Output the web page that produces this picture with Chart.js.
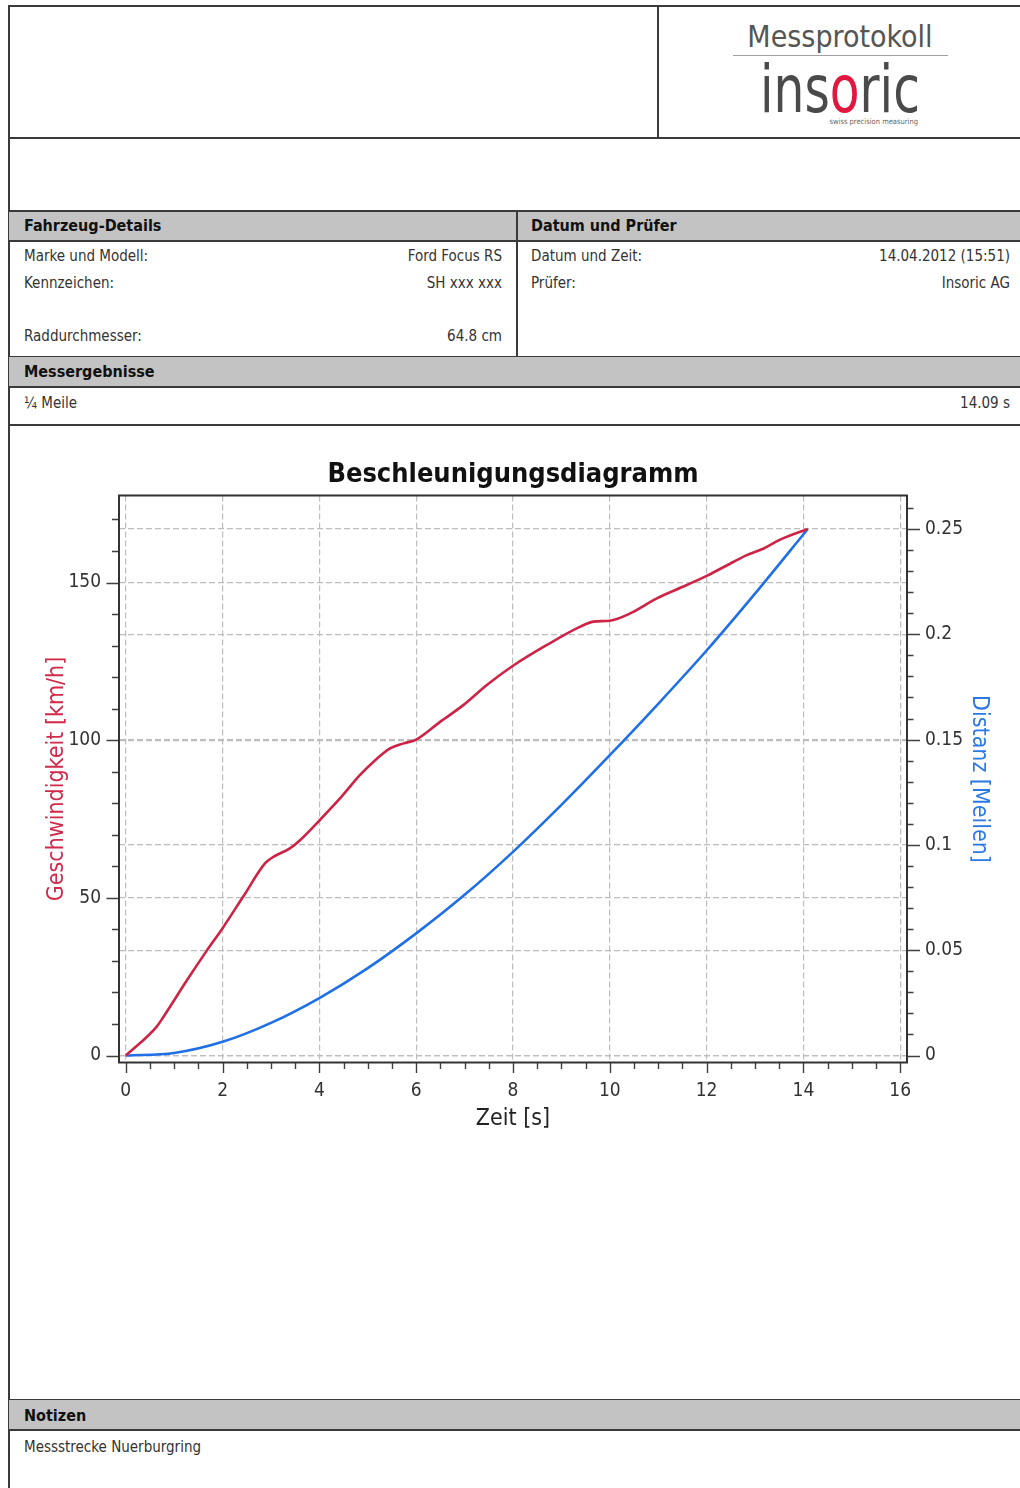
<!DOCTYPE html>
<html>
<head>
<meta charset="utf-8">
<title>Messprotokoll</title>
<script src="https://cdn.jsdelivr.net/npm/chart.js@4.4.1/dist/chart.umd.min.js"></script>
<style>
  html, body { margin: 0; padding: 0; background: #fff; }
  body {
    width: 1020px; height: 1488px; position: relative; overflow: hidden;
    font-family: 'DejaVu Sans Condensed', 'Liberation Sans', sans-serif; color: #333;
  }
  .hl { position: absolute; left: 8px; right: 0; height: 2px; background: #3a3a3a; }
  .vl { position: absolute; width: 2px; background: #3a3a3a; }
  .bar { position: absolute; left: 9px; right: 0; background: #c3c3c3; }
  .t { position: absolute; font-size: 15px; line-height: 18px; white-space: nowrap; }
  .b { font-weight: bold; color: #111; font-size: 16px; }
  .logo-title { position: absolute; left: 690px; width: 300px; top: 19px; line-height: 36px;
    text-align: center; font-size: 30px; color: #555; }
  .logo-rule { position: absolute; left: 733px; width: 215px; top: 55px; height: 1px; background: #a0a0a0; }
  .logo-word { position: absolute; left: 640px; width: 400px; top: 57px; font-size: 66px; line-height: 66px;
    text-align: center; color: #4a4a4a; transform: scaleX(0.82); transform-origin: 200px 0; }
  .logo-word span { color: #e2173f; }
  .logo-sub { position: absolute; right: 102px; top: 117px; font-size: 7.5px; line-height: 9px; color: #666; }
  #chart { position: absolute; left: 0; top: 430px; }
</style>
</head>
<body>
  <!-- report frame -->
  <div class="hl" style="top:5px"></div>
  <div class="vl" style="left:8px; top:5px; height:1483px"></div>
  <div class="vl" style="left:657px; top:5px; height:133px"></div>
  <div class="hl" style="top:137px"></div>

  <div class="logo-title">Messprotokoll</div>
  <div class="logo-rule"></div>
  <div class="logo-word">ins<span>o</span>ric</div>
  <div class="logo-sub">swiss precision measuring</div>

  <div class="bar" style="top:211px; height:30px"></div>
  <div class="hl" style="top:210px"></div>
  <div class="hl" style="top:240px"></div>
  <div class="vl" style="left:516px; top:210px; height:147px"></div>
  <div class="t b" style="left:24px; top:217px">Fahrzeug-Details</div>
  <div class="t b" style="left:531px; top:217px">Datum und Prüfer</div>

  <div class="t" style="left:24px; top:247px">Marke und Modell:</div>
  <div class="t" style="right:518px; top:247px">Ford Focus RS</div>
  <div class="t" style="left:24px; top:274px">Kennzeichen:</div>
  <div class="t" style="right:518px; top:274px">SH xxx xxx</div>
  <div class="t" style="left:24px; top:327px">Raddurchmesser:</div>
  <div class="t" style="right:518px; top:327px">64.8 cm</div>

  <div class="t" style="left:531px; top:247px">Datum und Zeit:</div>
  <div class="t" style="right:10px; top:247px">14.04.2012 (15:51)</div>
  <div class="t" style="left:531px; top:274px">Prüfer:</div>
  <div class="t" style="right:10px; top:274px">Insoric AG</div>

  <div class="hl" style="top:356px"></div>
  <div class="bar" style="top:357px; height:30px"></div>
  <div class="hl" style="top:386px"></div>
  <div class="t b" style="left:24px; top:363px">Messergebnisse</div>
  <div class="t" style="left:24px; top:394px">¼ Meile</div>
  <div class="t" style="right:10px; top:394px">14.09 s</div>
  <div class="hl" style="top:424px"></div>

  <canvas id="chart" width="1020" height="730"></canvas>

  <div class="hl" style="top:1399px"></div>
  <div class="bar" style="top:1400px; height:30px"></div>
  <div class="hl" style="top:1429px"></div>
  <div class="t b" style="left:24px; top:1407px">Notizen</div>
  <div class="t" style="left:24px; top:1438px">Messstrecke Nuerburgring</div>

<script>
// Speed over time (km/h)
const speedTime = [0, 0.64, 0.78, 1.26, 1.67, 2.0, 2.43, 2.88, 3.05, 3.39, 3.6, 4.01, 4.43, 4.84,
  5.12, 5.46, 5.74, 6.0, 6.5, 6.98, 7.46, 8.0, 8.7, 9.39, 9.66, 10.0, 10.42, 10.97, 11.59, 12.0,
  12.56, 12.83, 13.18, 13.53, 14.09];
const speedKmh = [0, 9.2, 12.3, 23.8, 33.2, 40.4, 50.5, 61, 63, 65.7, 68.3, 74.7, 81.6, 89,
  93.2, 97.4, 99, 100.2, 105.9, 111.2, 117.5, 123.6, 130.2, 136, 137.6, 137.9, 140.2, 145, 149.2, 152.1,
  156.6, 158.7, 160.8, 163.7, 167];

// Distance over time (miles)
const distTime = [0, 1, 2, 3, 4, 5, 6, 7, 8, 9, 10, 11, 12, 13, 14.09];
const distMiles = [0, 0.0012, 0.0065, 0.0155, 0.0273, 0.0415, 0.058, 0.0763, 0.0967, 0.119,
  0.1426, 0.167, 0.1923, 0.2193, 0.25];

// Axis ticks: every tick mark, and the ones that carry a label
const timeTicks = [0, 0.5, 1, 1.5, 2, 2.5, 3, 3.5, 4, 4.5, 5, 5.5, 6, 6.5, 7, 7.5, 8, 8.5, 9, 9.5,
  10, 10.5, 11, 11.5, 12, 12.5, 13, 13.5, 14, 14.5, 15, 15.5, 16];
const timeLabels = [0, 2, 4, 6, 8, 10, 12, 14, 16];
const speedTicks = [0, 10, 20, 30, 40, 50, 60, 70, 80, 90, 100, 110, 120, 130, 140, 150, 160, 170];
const speedLabels = [0, 50, 100, 150];
const distTicks = [0, 0.01, 0.02, 0.03, 0.04, 0.05, 0.06, 0.07, 0.08, 0.09, 0.1, 0.11, 0.12, 0.13,
  0.14, 0.15, 0.16, 0.17, 0.18, 0.19, 0.2, 0.21, 0.22, 0.23, 0.24, 0.25, 0.26];
const distLabels = [0, 0.05, 0.1, 0.15, 0.2, 0.25];

const FONT = "'DejaVu Sans Condensed', 'Liberation Sans', sans-serif";
const GRID = '#bdbdbd';
const NONE = 'rgba(0,0,0,0)';
const DASH = [6, 3];

const toPoints = (xs, ys) => xs.map((x, i) => ({ x, y: ys[i] }));
const gridFor = (labels) => (ctx) => (ctx.tick && labels.includes(ctx.tick.value)) ? GRID : NONE;
const setTicks = (values) => (scale) => { scale.ticks = values.map(v => ({ value: v })); };

// Frame around the plot area plus outward tick marks (long at labelled values)
const axisMarks = {
  id: 'axisMarks',
  afterDraw(chart) {
    const { ctx, chartArea: a, scales } = chart;
    ctx.save();
    ctx.strokeStyle = '#404040';
    ctx.lineWidth = 1.4;
    ctx.beginPath();
    timeTicks.forEach(v => {
      const px = Math.round(scales.x.getPixelForValue(v)) + 0.5;
      const len = timeLabels.includes(v) ? 10.5 : 6.5;
      ctx.moveTo(px, a.bottom); ctx.lineTo(px, a.bottom + len);
    });
    speedTicks.forEach(v => {
      const py = Math.round(scales.speed.getPixelForValue(v)) + 0.5;
      const len = speedLabels.includes(v) ? 12.5 : 7;
      ctx.moveTo(a.left, py); ctx.lineTo(a.left - len, py);
    });
    distTicks.forEach(v => {
      const py = Math.round(scales.dist.getPixelForValue(v)) + 0.5;
      const len = distLabels.includes(v) ? 13 : 6.5;
      ctx.moveTo(a.right, py); ctx.lineTo(a.right + len, py);
    });
    ctx.stroke();
    ctx.strokeStyle = '#333';
    ctx.lineWidth = 2;
    ctx.strokeRect(a.left, a.top, a.right - a.left, a.bottom - a.top);
    ctx.restore();
  }
};

new Chart(document.getElementById('chart'), {
  type: 'line',
  data: {
    datasets: [
      {
        label: 'Geschwindigkeit [km/h]',
        data: toPoints(speedTime, speedKmh),
        yAxisID: 'speed',
        borderColor: '#cf2346',
        borderWidth: 2.6,
        pointRadius: 0,
        cubicInterpolationMode: 'monotone'
      },
      {
        label: 'Distanz [Meilen]',
        data: toPoints(distTime, distMiles),
        yAxisID: 'dist',
        borderColor: '#1f6fe6',
        borderWidth: 2.6,
        pointRadius: 0,
        cubicInterpolationMode: 'monotone'
      }
    ]
  },
  options: {
    responsive: false,
    animation: false,
    layout: { padding: 0 },
    plugins: {
      legend: { display: false },
      tooltip: { enabled: false },
      title: {
        display: true,
        fullSize: false,
        text: 'Beschleunigungsdiagramm',
        color: '#111',
        font: { family: FONT, size: 27, weight: 'bold', lineHeight: 1.2 },
        padding: { top: 28.8, bottom: 4.3 }
      }
    },
    scales: {
      x: {
        type: 'linear',
        position: 'bottom',
        min: -0.14,
        max: 16.14,
        afterBuildTicks: setTicks(timeTicks),
        afterFit: (s) => { s.height = 97.5; },
        ticks: {
          autoSkip: false, maxRotation: 0, padding: 17, color: '#333',
          font: { family: FONT, size: 19 },
          callback: (v) => timeLabels.includes(v) ? String(v) : ''
        },
        grid: { color: gridFor(timeLabels), lineWidth: 1.2, drawTicks: false },
        border: { display: false, dash: DASH },
        title: {
          display: true, text: 'Zeit [s]', color: '#222',
          font: { family: FONT, size: 23 }, padding: { top: 0, bottom: 27.2 }
        }
      },
      speed: {
        type: 'linear',
        position: 'left',
        min: -2.2,
        max: 177.6,
        afterBuildTicks: setTicks(speedTicks),
        afterFit: (s) => { s.width = 119; },
        ticks: {
          autoSkip: false, padding: 18, color: '#333',
          font: { family: FONT, size: 19 },
          callback: (v) => speedLabels.includes(v) ? String(v) : ''
        },
        grid: { color: gridFor(speedLabels), lineWidth: 1.2, drawTicks: false },
        border: { display: false, dash: DASH },
        title: {
          display: true, text: 'Geschwindigkeit [km/h]', color: '#d12a4b',
          font: { family: FONT, size: 23 }, padding: { top: 43, bottom: 0 }
        }
      },
      dist: {
        type: 'linear',
        position: 'right',
        min: -0.00332,
        max: 0.2659,
        afterBuildTicks: setTicks(distTicks),
        afterFit: (s) => { s.width = 113; },
        ticks: {
          autoSkip: false, padding: 18, color: '#333',
          font: { family: FONT, size: 19 },
          callback: (v) => distLabels.includes(v) ? String(v) : ''
        },
        grid: { color: gridFor(distLabels), lineWidth: 1.2, drawTicks: false },
        border: { display: false, dash: DASH },
        title: {
          display: true, text: 'Distanz [Meilen]', color: '#2a78e4',
          font: { family: FONT, size: 23 }, padding: { top: 27.2, bottom: 0 }
        }
      }
    }
  },
  plugins: [axisMarks]
});
</script>
</body>
</html>
